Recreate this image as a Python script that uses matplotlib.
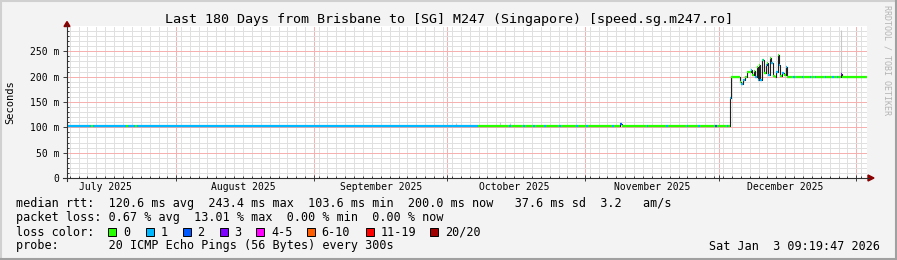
import pandas as pd
import matplotlib
matplotlib.use('Agg')
import matplotlib.pyplot as plt
import matplotlib.dates as mdates
from matplotlib.lines import Line2D
from matplotlib.patches import Polygon, Rectangle
from matplotlib.ticker import FixedLocator
from matplotlib.transforms import blended_transform_factory

W, H = 897, 260
plt.rcParams['font.family'] = ['DejaVu Sans Mono']

start_time = '2025-07-07 09:19:47'
end_time = '2026-01-03 09:19:47'

# median rtt as steps: each value holds from seg_start[i] until seg_start[i+1]
seg_start = [
    '2025-07-07 09:20', '2025-07-12 20:00', '2025-07-13 05:00', '2025-07-20 18:00',
    '2025-07-21 03:00', '2025-07-22 18:00', '2025-07-23 03:00', '2025-10-07 23:00',
    '2025-10-14 20:00', '2025-10-15 05:00', '2025-10-18 01:00', '2025-10-18 10:00',
    '2025-10-20 06:00', '2025-10-20 15:00', '2025-10-22 18:00', '2025-10-23 03:00',
    '2025-10-26 03:00', '2025-10-26 12:00', '2025-10-29 23:00', '2025-10-30 08:00',
    '2025-11-01 04:00', '2025-11-01 13:00', '2025-11-07 00:00', '2025-11-07 09:00',
    '2025-11-08 20:00', '2025-11-09 05:00', '2025-11-14 20:00', '2025-11-15 05:00',
    '2025-11-19 02:00', '2025-11-19 14:00', '2025-11-23 20:00', '2025-11-24 05:00',
    '2025-11-26 08:00', '2025-11-26 17:00', '2025-11-30 02:00', '2025-11-30 14:00',
    '2025-12-02 20:00', '2025-12-03 05:00', '2025-12-03 13:00', '2025-12-03 20:00',
    '2025-12-05 19:00', '2025-12-06 02:00', '2025-12-06 12:00', '2025-12-06 21:00',
    '2025-12-07 11:00', '2025-12-08 05:00', '2025-12-08 14:00', '2025-12-08 22:00',
    '2025-12-09 07:00', '2025-12-09 17:00', '2025-12-09 22:00', '2025-12-10 04:00',
    '2025-12-10 10:00', '2025-12-10 17:00', '2025-12-10 23:00', '2025-12-11 05:00',
    '2025-12-11 14:00', '2025-12-11 22:00', '2025-12-12 02:00', '2025-12-12 12:00',
    '2025-12-12 19:00', '2025-12-13 05:00', '2025-12-13 14:00', '2025-12-14 00:00',
    '2025-12-14 07:00', '2025-12-14 14:00', '2025-12-14 22:00', '2025-12-15 07:00',
    '2025-12-15 17:00', '2025-12-16 02:00', '2025-12-16 07:00', '2025-12-17 17:00',
    '2025-12-18 02:00', '2025-12-19 17:00', '2025-12-20 02:00', '2025-12-21 12:00',
    '2025-12-21 21:00', '2025-12-22 15:00', '2025-12-23 00:00', '2025-12-24 20:00',
    '2025-12-25 05:00', '2025-12-26 15:00', '2025-12-27 00:00', '2025-12-27 13:00',
    '2025-12-27 22:00', '2025-12-28 11:00', '2025-12-28 20:00',
]
seg_rtt_ms = [
    103.6, 103.6, 103.6, 103.6, 103.6, 103.6, 103.6, 103.6,
    103.6, 103.6, 103.6, 103.6, 103.6, 103.6, 103.6, 103.6,
    103.6, 103.6, 103.6, 103.6, 103.6, 103.6, 103.6, 103.6,
    106.0, 103.6, 103.6, 103.6, 103.6, 103.6, 103.6, 103.6,
    103.6, 103.6, 103.6, 103.6, 103.6, 103.6, 158.0, 200.0,
    190.0, 186.0, 194.0, 200.0, 210.0, 213.0, 203.0, 212.0,
    200.0, 220.0, 194.0, 223.0, 194.0, 233.0, 232.0, 207.0,
    223.0, 227.0, 203.0, 236.0, 227.0, 201.0, 200.0, 210.0,
    243.0, 223.0, 201.0, 207.0, 203.0, 220.0, 200.0, 200.0,
    200.0, 200.0, 200.0, 200.0, 200.0, 200.0, 200.0, 200.0,
    200.0, 200.0, 200.0, 200.0, 200.0, 206.0, 200.0,
]
seg_loss = [
    1, 0, 1, 0, 1, 0, 1, 0,
    1, 0, 1, 0, 1, 0, 1, 0,
    1, 0, 1, 0, 1, 0, 1, 0,
    2, 0, 1, 0, 1, 0, 1, 0,
    1, 0, 2, 0, 1, 0, 1, 0,
    0, 1, 1, 0, 0, 1, 0, 0,
    1, 0, 1, 0, 1, 0, 1, 0,
    1, 0, 1, 0, 1, 0, 0, 1,
    0, 1, 0, 1, 0, 1, 0, 1,
    0, 1, 0, 1, 0, 1, 0, 1,
    0, 1, 0, 1, 0, 3, 0,
]

# faint smoke (ping spread) bits
smoke_time = ['2025-10-03 00:00', '2025-10-12 18:00', '2025-10-14 23:00', '2025-12-28 15:00']
smoke_lo = [104, 104, 104, 206]
smoke_hi = [109, 110, 109, 292]

loss_labels = ['0', '1', '2', '3', '4-5', '6-10', '11-19', '20/20']
loss_colors = ['#26ff00', '#00b8ff', '#0059ff', '#7e00ff', '#ff00ff', '#ff5e00', '#ff0000', '#a10000']

month_labels = ['July 2025', 'August 2025', 'September 2025', 'October 2025',
                'November 2025', 'December 2025']
month_mid = ['2025-07-16', '2025-08-16', '2025-09-16', '2025-10-16', '2025-11-16', '2025-12-16']

ytick_ms = [0, 50, 100, 150, 200, 250]
ytick_labels = ['0', '50 m', '100 m', '150 m', '200 m', '250 m']

title = 'Last 180 Days from Brisbane to [SG] M247 (Singapore) [speed.sg.m247.ro]'
legend_rtt = 'median rtt:  120.6 ms avg  243.4 ms max  103.6 ms min  200.0 ms now   37.6 ms sd  3.2   am/s'
legend_loss = 'packet loss: 0.67 % avg  13.01 % max  0.00 % min  0.00 % now'
legend_probe = 'probe:       20 ICMP Echo Pings (56 Bytes) every 300s'
stamp = 'Sat Jan  3 09:19:47 2026'


def fx(px):
    return px / W


def fy(py):
    return 1 - py / H


fig = plt.figure(figsize=(W / 100, H / 100), dpi=100)
fig.patch.set_facecolor('#f3f3f3')

ax = fig.add_axes([fx(67), fy(178), 800 / W, 152 / H])
ax.set_facecolor('white')

t = mdates.date2num(pd.to_datetime(seg_start))
t_end = mdates.date2num(pd.Timestamp(end_time))
t_next = list(t[1:]) + [t_end]

ax.set_xlim(mdates.date2num(pd.Timestamp(start_time)), t_end)
ax.set_ylim(0, 300)

# grid
ax.xaxis.set_major_locator(mdates.MonthLocator())
ax.xaxis.set_minor_locator(mdates.DayLocator(bymonthday=range(2, 32, 2)))
ax.yaxis.set_major_locator(FixedLocator(ytick_ms))
ax.yaxis.set_minor_locator(FixedLocator([v for v in range(10, 300, 10) if v % 50]))
ax.grid(which='minor', color='#e0e0e0', lw=0.72, ls=(0, (1, 1)), antialiased=False)
ax.grid(which='major', color='#f5b0b0', lw=0.72, ls=(0, (1, 1)), antialiased=False)
ax.set_axisbelow(True)
for s in ax.spines.values():
    s.set_visible(False)

ax.tick_params(axis='x', which='major', direction='inout', length=4, width=0.72,
               color='#404040', labelbottom=False)
ax.tick_params(axis='x', which='minor', direction='in', length=1.5, width=0.72, color='#404040')
ax.tick_params(axis='y', which='major', direction='out', length=2.9, width=0.72,
               color='#404040', labelsize=7, pad=2.6)
ax.tick_params(axis='y', which='minor', direction='in', length=1.5, width=0.72, color='#404040')
ax.set_yticklabels(ytick_labels)

# smoke
ax.vlines(mdates.date2num(pd.to_datetime(smoke_time)), smoke_lo, smoke_hi,
          colors='#c8c8c8', lw=0.8, zorder=2)

# median line: dark step line, then loss coloured pieces on top
xs = list(t) + [t_end]
ys = seg_rtt_ms + [seg_rtt_ms[-1]]
ax.step(xs, ys, where='post', color='#202020', lw=0.8, zorder=3)
ax.hlines(seg_rtt_ms, t, t_next, colors=[loss_colors[c] for c in seg_loss],
          lw=1.6, zorder=4, capstyle='butt')

# month labels centred mid month
tr = blended_transform_factory(ax.transData, ax.transAxes)
for lab, d in zip(month_labels, month_mid):
    ax.text(mdates.date2num(pd.Timestamp(d)), -9.5 / 152, lab, transform=tr,
            ha='center', va='center', fontsize=7, color='black')

# axes lines with arrows
fig.add_artist(Line2D([fx(63), fx(869)], [fy(178), fy(178)], color='#303030', lw=0.8))
fig.add_artist(Line2D([fx(67), fx(67)], [fy(181), fy(25)], color='#303030', lw=0.8))
fig.add_artist(Polygon([(fx(64), fy(26.5)), (fx(70), fy(26.5)), (fx(67), fy(21.5))],
                       closed=True, color='#8b0000', transform=fig.transFigure))
fig.add_artist(Polygon([(fx(868), fy(175)), (fx(868), fy(181)), (fx(874), fy(178))],
                       closed=True, color='#8b0000', transform=fig.transFigure))

# frame
fig.add_artist(Line2D([0, 1], [fy(0.5), fy(0.5)], color='#d0d0d0', lw=1.5))
fig.add_artist(Line2D([fx(0.5), fx(0.5)], [0, 1], color='#d0d0d0', lw=1.5))
fig.add_artist(Line2D([0, 1], [fy(259), fy(259)], color='#a0a0a0', lw=1.5))
fig.add_artist(Line2D([fx(896), fx(896)], [0, 1], color='#a0a0a0', lw=1.5))

# texts
fig.text(0.5, fy(19), title, ha='center', va='center', fontsize=9.6)
fig.text(fx(10), fy(102), 'Seconds', rotation=90, ha='center', va='center', fontsize=7.5)
fig.text(fx(887), fy(60), 'RRDTOOL / TOBI OETIKER', rotation=270, ha='center',
         va='center', fontsize=6, color='#b4b4b4')

fs = 8.5
fig.text(fx(16), fy(204), legend_rtt, ha='left', va='center', fontsize=fs)
fig.text(fx(16), fy(218), legend_loss, ha='left', va='center', fontsize=fs)
fig.text(fx(16), fy(232), 'loss color:', ha='left', va='center', fontsize=fs)
swatch_x = [108, 145.5, 182.5, 219.5, 256, 306.5, 366, 430]
for sx, lab, col in zip(swatch_x, loss_labels, loss_colors):
    fig.add_artist(Rectangle((fx(sx), fy(236)), 8 / W, 8 / H, facecolor=col,
                             edgecolor='black', lw=0.7, transform=fig.transFigure))
    fig.text(fx(sx + 15), fy(232), lab, ha='left', va='center', fontsize=fs)
fig.text(fx(16), fy(246), legend_probe, ha='left', va='center', fontsize=fs)
fig.text(fx(880), fy(246), stamp, ha='right', va='center', fontsize=fs)

fig.savefig('out.png', dpi=100, facecolor=fig.get_facecolor())
